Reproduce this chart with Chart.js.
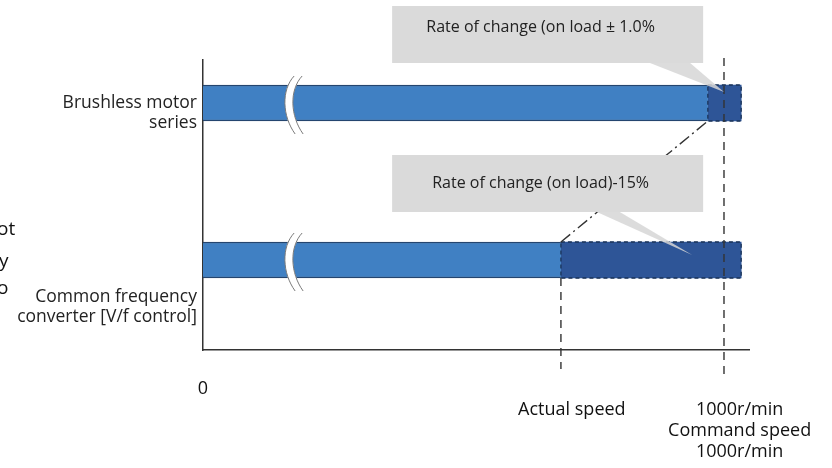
<!DOCTYPE html>
<html>
<head>
<meta charset="utf-8">
<script src="https://cdn.jsdelivr.net/npm/chart.js@4"></script>
<style>
  body { margin: 0; background: #fff; }
  canvas { display: block; }
</style>
</head>
<body>
<canvas id="speedChart" width="832" height="468"></canvas>
<script>
// drive types
const rowLabels = [['Brushless motor', 'series'], ['Common frequency', 'converter [V/f control]']];
const rowLevel = [247, 90];        // bar centre on the vertical scale
const rowLabelLevel = [237, 43];   // where the row names sit
// speeds in r/min (axis is broken just after 0)
const heldSpeed = [969, 687];      // speed kept under load
const bandEnd = [1033, 1033];      // end of the change band
const commandSpeed = 1000;
const actualSpeed = 687;
const breakAt = 173;
// x tick labels
const speedTicks = [0, 708, 1030];
const speedTickLabels = [['0'], ['', 'Actual speed'], ['', '1000r/min', 'Command speed', '1000r/min']];
const notes = ['Rate of change (on load \u00b1 1.0%', 'Rate of change (on load)-15%'];
const edgeText = ['ot', 'y', 'o'];

const FONT = "'Open Sans', 'DejaVu Sans', sans-serif";

const overlay = {
  id: 'overlay',
  afterDatasetsDraw(chart) {
    const ctx = chart.ctx;
    const x = chart.scales.x;
    const area = chart.chartArea;
    const light = chart.getDatasetMeta(0).data;
    const dark = chart.getDatasetMeta(1).data;
    ctx.save();

    // dashed outline round the change band
    ctx.setLineDash([4, 3]);
    ctx.lineWidth = 1.3;
    ctx.strokeStyle = '#1b3358';
    dark.forEach(b => {
      const p = b.getProps(['x', 'y', 'base', 'height'], true);
      ctx.strokeRect(p.base, p.y - p.height / 2, p.x - p.base, p.height);
    });

    // command speed / actual speed markers
    ctx.strokeStyle = '#333';
    ctx.lineWidth = 1.4;
    ctx.setLineDash([8, 6]);
    const xc = x.getPixelForValue(commandSpeed);
    ctx.beginPath();
    ctx.moveTo(xc, area.top - 2);
    ctx.lineTo(xc, area.bottom + 25);
    ctx.stroke();
    const xa = x.getPixelForValue(actualSpeed);
    const lowBar = light[1].getProps(['y', 'height'], true);
    const topBar = light[0].getProps(['x', 'y', 'height'], true);
    ctx.beginPath();
    ctx.moveTo(xa, lowBar.y + lowBar.height / 2);
    ctx.lineTo(xa, area.bottom + 19);
    ctx.stroke();

    // dash-dot link between the two bands
    ctx.setLineDash([12, 4, 2, 4]);
    ctx.beginPath();
    ctx.moveTo(xa, lowBar.y - lowBar.height / 2);
    ctx.lineTo(topBar.x, topBar.y + topBar.height / 2);
    ctx.stroke();
    ctx.setLineDash([]);

    // axis break marks
    const xb = x.getPixelForValue(breakAt);
    light.forEach(b => {
      const p = b.getProps(['y', 'height'], true);
      const t = p.y - p.height / 2 - 9, e = p.y + p.height / 2 + 13;
      const path = (dx) => {
        ctx.beginPath();
        ctx.moveTo(xb + 5 + dx, t);
        ctx.bezierCurveTo(xb - 8 + dx, t + 14, xb - 7 + dx, e - 18, xb + 6 + dx, e);
      };
      ctx.lineWidth = 8;
      ctx.strokeStyle = '#ffffff';
      path(0);
      ctx.stroke();
      ctx.lineWidth = 1;
      ctx.strokeStyle = '#7a7a7a';
      path(-4);
      ctx.stroke();
      path(4);
      ctx.stroke();
    });

    // callouts
    const callouts = [
      { x0: 363, x1: 960, top: 6, bottom: 63, textY: 27, b0: 858, b1: 935,
        tip: [xc, topBar.y - 11] },
      { x0: 363, x1: 960, top: 155, bottom: 212, textY: 183, b0: 756, b1: 800,
        tip: [x.getPixelForValue(939), lowBar.y - 5] }
    ];
    callouts.forEach((c, i) => {
      const l = x.getPixelForValue(c.x0), r = x.getPixelForValue(c.x1);
      ctx.fillStyle = 'rgba(214,214,214,0.85)';
      ctx.beginPath();
      ctx.moveTo(x.getPixelForValue(c.b0), c.bottom);
      ctx.lineTo(c.tip[0], c.tip[1]);
      ctx.lineTo(x.getPixelForValue(c.b1), c.bottom);
      ctx.closePath();
      ctx.fill();
      ctx.fillStyle = '#dadada';
      ctx.fillRect(l, c.top, r - l, c.bottom - c.top);
      ctx.fillStyle = '#222';
      ctx.font = '16px ' + FONT;
      ctx.textAlign = 'center';
      ctx.textBaseline = 'middle';
      ctx.fillText(notes[i], (l + r) / 2 - 7, c.textY);
    });

    // clipped words on the far left
    ctx.fillStyle = '#111';
    ctx.font = '19px ' + FONT;
    ctx.textAlign = 'left';
    ctx.textBaseline = 'middle';
    [230, 262, 289].forEach((ty, i) => ctx.fillText(edgeText[i], i === 1 ? -1 : -3, ty));
    ctx.restore();
  }
};

new Chart(document.getElementById('speedChart').getContext('2d'), {
  type: 'bar',
  data: {
    datasets: [
      {
        label: 'Held speed',
        data: rowLevel.map((lv, i) => ({ y: lv, x: [0, heldSpeed[i]] })),
        backgroundColor: '#4080c3',
        borderColor: '#24456f',
        borderWidth: { top: 1.5, bottom: 1.5, left: 0, right: 0 },
        borderSkipped: false,
        barThickness: 36,
        grouped: false
      },
      {
        label: 'Change band',
        data: rowLevel.map((lv, i) => ({ y: lv, x: [heldSpeed[i], bandEnd[i]] })),
        backgroundColor: '#2e5597',
        borderWidth: 0,
        barThickness: 36,
        grouped: false
      }
    ]
  },
  options: {
    indexAxis: 'y',
    responsive: false,
    animation: false,
    layout: { padding: { top: 60, right: 83, left: 0, bottom: 0 } },
    plugins: { legend: { display: false }, tooltip: { enabled: false } },
    scales: {
      x: {
        type: 'linear',
        min: 0,
        max: 1048,
        grid: { display: false, drawTicks: false },
        border: { display: true, color: '#333', width: 1.5 },
        afterBuildTicks: s => { s.ticks = speedTicks.map(v => ({ value: v })); },
        afterFit: s => { s.height = 118; s.paddingLeft = 0; s.paddingRight = 0; },
        ticks: {
          autoSkip: false,
          maxRotation: 0,
          padding: 28,
          color: '#111',
          font: { family: FONT, size: 18, lineHeight: 1.17 },
          callback: (v, i) => speedTickLabels[i]
        }
      },
      y: {
        type: 'linear',
        offset: false,
        min: 0,
        max: 290,
        grid: { display: false, drawTicks: false, offset: false },
        border: { display: true, color: '#333', width: 1.5 },
        afterBuildTicks: s => { s.ticks = rowLabelLevel.map(v => ({ value: v })); },
        afterFit: s => { s.width = 203; s.paddingTop = 0; s.paddingBottom = 0; },
        ticks: {
          autoSkip: false,
          padding: 6,
          color: '#222',
          font: { family: FONT, size: 17.5, lineHeight: 1.17 },
          callback: (v, i) => rowLabels[i]
        }
      }
    }
  },
  plugins: [overlay]
});
</script>
</body>
</html>
